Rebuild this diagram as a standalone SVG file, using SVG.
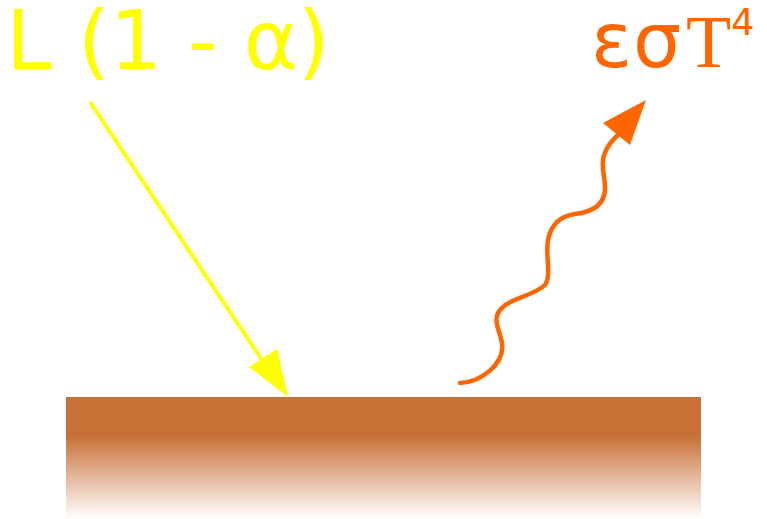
<svg xmlns="http://www.w3.org/2000/svg" width="767" height="519" viewBox="0 0 767 519">
<defs>
<linearGradient id="ground" x1="0" y1="0" x2="0" y2="1">
<stop offset="0" stop-color="#C87137"/>
<stop offset="0.32" stop-color="#C87137"/>
<stop offset="1" stop-color="#C87137" stop-opacity="0"/>
</linearGradient>
<style>
.lbl-in{font-family:"DejaVu Sans",sans-serif;fill:#FFFF00;font-size:82px}
.lbl-out{fill:#FF6600}
.gr{font-family:"DejaVu Sans",sans-serif;font-size:76px}
.tt{font-family:"Liberation Serif",serif;font-size:74px}
.sup{font-family:"DejaVu Sans",sans-serif;font-size:37px}
.in{stroke:#FFFF00;stroke-width:4;fill:none}
.out{stroke:#FF6600;stroke-width:4.5;fill:none;stroke-linecap:round}
</style>
</defs>
<rect width="767" height="519" fill="#FFFFFF"/>
<g id="surface">
<rect x="66" y="397" width="635" height="122" fill="url(#ground)"/>
</g>
<g id="label-incoming">
<text class="lbl-in" x="6" y="69">L (1 - α)</text>
</g>
<g id="label-emitted">
<text class="lbl-out"><tspan class="gr" x="591" y="67">ε</tspan><tspan class="gr" x="633" y="67">σ</tspan><tspan class="tt" x="686" y="67">T</tspan><tspan class="sup" x="731" y="35">4</tspan></text>
</g>
<g id="connectors">
<line class="in" x1="90" y1="102" x2="266" y2="366"/>
<polygon points="288,397 249,367 277,349" fill="#FFFF00"/>
<path class="out" d="M460,383 C480,382 505,365 502,343 C500,330 490,318 503,307 C512,298 535,295 545,285 C552,275 545,255 548,240 C551,225 560,216 575,214 C592,212 604,205 605,190 C606,178 600,168 604,155 C607,146 612,140 620,133"/>
<polygon points="646,100 603,123 630,145" fill="#FF6600"/>
</g>
</svg>
